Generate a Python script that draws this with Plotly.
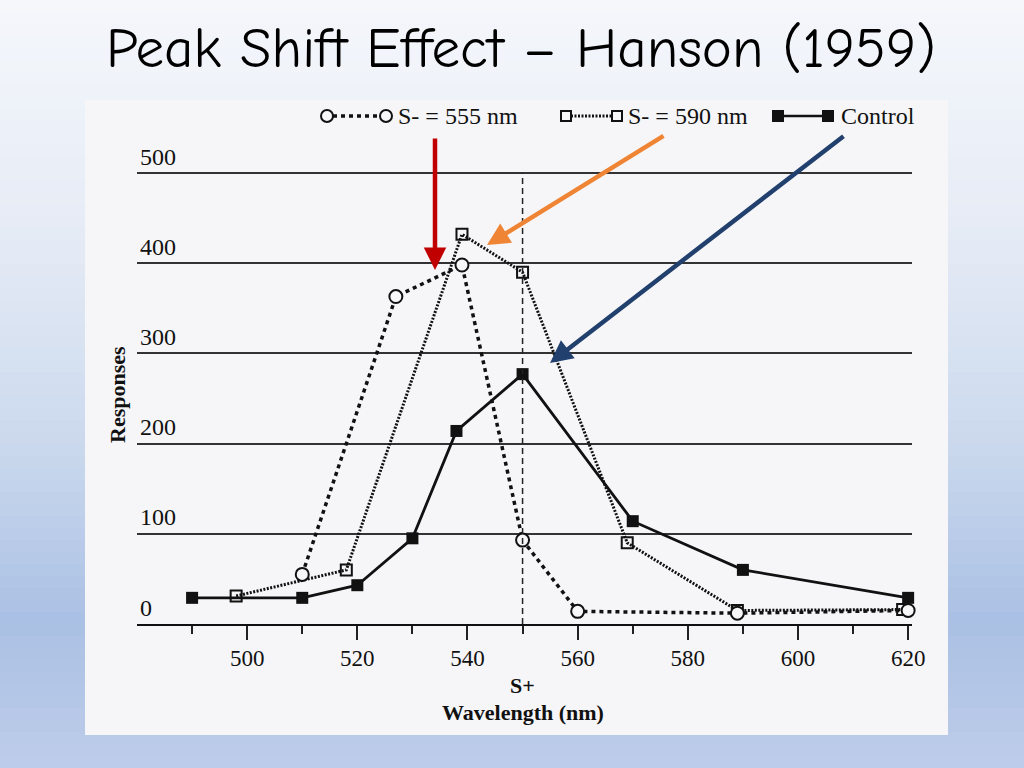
import plotly.graph_objects as go

# ---- data ----
control_x = [490, 510, 520, 530, 538, 550, 570, 590, 620]
control_y = [29, 29, 43, 95, 214, 277, 114, 60, 29]

s555_x = [510, 527, 539, 550, 560, 589, 620]
s555_y = [55, 363, 398, 93, 14, 12, 15]

s590_x = [498, 518, 539, 550, 569, 589, 619]
s590_y = [31, 60, 432, 390, 90, 15, 16]

x_ticks = [500, 520, 540, 560, 580, 600, 620]
y_ticks = [0, 100, 200, 300, 400, 500]
s_plus = 550

W, H = 1024, 768
def px(x):
    return x / W
def py(y):
    return 1 - y / H

fig = go.Figure()

fig.add_trace(go.Scatter(
    x=s590_x, y=s590_y, mode="lines+markers", name="S- = 590 nm",
    line=dict(color="#111111", width=3, dash="2px,1.5px"),
    marker=dict(symbol="square-open", size=11, color="#111111", line=dict(width=2)),
    cliponaxis=False))
fig.add_trace(go.Scatter(
    x=s555_x, y=s555_y, mode="lines+markers", name="S- = 555 nm",
    line=dict(color="#111111", width=3.5, dash="4px,4px"),
    marker=dict(symbol="circle", size=13, color="#f7f7f9", line=dict(width=2, color="#111111")),
    cliponaxis=False))
fig.add_trace(go.Scatter(
    x=control_x, y=control_y, mode="lines+markers", name="Control",
    line=dict(color="#111111", width=2.8),
    marker=dict(symbol="square", size=12, color="#111111"),
    cliponaxis=False))

shapes = []
# background gradient (slide)
stops = [(0, (245, 247, 251)), (250, (228, 234, 245)), (450, (202, 216, 237)),
         (620, (170, 192, 228)), (768, (190, 205, 234))]
def col_at(y):
    for (y0, c0), (y1, c1) in zip(stops[:-1], stops[1:]):
        if y0 <= y <= y1:
            t = (y - y0) / (y1 - y0)
            return "rgb(%d,%d,%d)" % tuple(round(a + (b - a) * t) for a, b in zip(c0, c1))
    return "rgb(%d,%d,%d)" % stops[-1][1]
step = 12
for y in range(0, H, step):
    shapes.append(dict(type="rect", xref="paper", yref="paper", x0=0, x1=1,
                       y0=py(y + step + 1), y1=py(y), fillcolor=col_at(y + step / 2),
                       line=dict(width=0), layer="below"))
# scanned page
shapes.append(dict(type="rect", xref="paper", yref="paper", x0=px(85), x1=px(948),
                   y0=py(735), y1=py(100), fillcolor="#f6f6f8", line=dict(width=0), layer="below"))
# S+ dashed line
shapes.append(dict(type="line", xref="x", yref="y", x0=s_plus, x1=s_plus, y0=0, y1=500,
                   line=dict(color="#222222", width=1.5, dash="6px,4px")))

# legend samples
ly = py(116)
def circ(xc, r=6):
    return dict(type="circle", xref="paper", yref="paper", x0=px(xc - r), x1=px(xc + r),
                y0=ly - r / H, y1=ly + r / H, line=dict(color="#111", width=2), fillcolor="#f6f6f8")
def sq(xc, filled, r=5):
    return dict(type="rect", xref="paper", yref="paper", x0=px(xc - r), x1=px(xc + r),
                y0=ly - r / H, y1=ly + r / H, line=dict(color="#111", width=2),
                fillcolor="#111" if filled else "#f6f6f8")
def seg(x0, x1, dash, w):
    return dict(type="line", xref="paper", yref="paper", x0=px(x0), x1=px(x1), y0=ly, y1=ly,
                line=dict(color="#111", width=w, dash=dash))
shapes += [seg(333, 380, "4px,4px", 3.5), circ(327), circ(386),
           seg(571, 612, "2px,1.5px", 3), sq(566, False), sq(617, False),
           seg(783, 823, "solid", 2.5), sq(778, True), sq(828, True)]

annotations = []
serif = "Liberation Serif, Times New Roman, serif"
for xl, txt in [(396, "S- = 555 nm"), (626, "S- = 590 nm"), (839, "Control")]:
    annotations.append(dict(x=px(xl), y=ly, xref="paper", yref="paper", text=txt,
                            showarrow=False, xanchor="left", yanchor="middle",
                            font=dict(family=serif, size=24, color="#111")))
annotations.append(dict(x=px(521), y=py(48), xref="paper", yref="paper",
                        text="Peak Shift Effect – Hanson (1959)", showarrow=False,
                        xanchor="center", yanchor="middle",
                        font=dict(family="Comic Sans MS, Comic Neue, Lato, sans-serif", size=57, color="#000")))
annotations.append(dict(x=s_plus, y=py(685), xref="x", yref="paper", text="<b>S+</b>",
                        showarrow=False, xanchor="center", yanchor="middle",
                        font=dict(family=serif, size=22, color="#111")))
annotations.append(dict(x=s_plus, y=py(712), xref="x", yref="paper", text="<b>Wavelength (nm)</b>",
                        showarrow=False, xanchor="center", yanchor="middle",
                        font=dict(family=serif, size=22, color="#111")))
annotations.append(dict(x=px(117), y=py(395), xref="paper", yref="paper", text="<b>Responses</b>",
                        textangle=-90, showarrow=False, xanchor="center", yanchor="middle",
                        font=dict(family=serif, size=22, color="#111")))
# arrows
for (hx, hy, tx, ty, c) in [(435, 270, 435, 137, "#c00000"),
                            (487, 245, 665, 135, "#ee8434"),
                            (550, 363, 845, 135, "#22406e")]:
    annotations.append(dict(x=px(hx), y=py(hy), xref="paper", yref="paper", text="",
                            showarrow=True, ax=tx - hx, ay=ty - hy, arrowcolor=c,
                            arrowwidth=4.5, arrowhead=2, arrowsize=1, standoff=0))

fig.update_layout(
    width=W, height=H, autosize=False,
    margin=dict(l=0, r=0, t=0, b=0, pad=0, autoexpand=False),
    paper_bgcolor="#f4f6fa", plot_bgcolor="rgba(0,0,0,0)",
    showlegend=False, shapes=shapes, annotations=annotations,
    xaxis=dict(domain=[137 / W, 912 / W], range=[480, 620.7], tickvals=x_ticks,
               ticks="outside", ticklen=14, tickwidth=1.5, tickcolor="#222",
               showline=True, linecolor="#111", linewidth=2, showgrid=False, zeroline=False,
               automargin=False, ticklabelstandoff=-2,
               tickfont=dict(family=serif, size=23, color="#111"),
               minor=dict(tickvals=[490, 510, 530, 550, 570, 590, 610], ticks="outside",
                          ticklen=8, tickwidth=1.5, tickcolor="#222")),
    yaxis=dict(domain=[(H - 624) / H, (H - 91.8) / H], range=[0, 590], tickvals=y_ticks,
               ticklabelposition="inside top", showgrid=True, gridcolor="#333", gridwidth=1.5,
               zeroline=False, showline=False, ticks="", automargin=False,
               tickfont=dict(family=serif, size=24, color="#111")),
)

fig.write_html(
    "out.html",
    config={"responsive": False, "displayModeBar": False},
    default_width="1024px", default_height="768px",
    post_script=(
        "document.documentElement.style.overflow='hidden';"
        "document.body.style.margin='0';document.body.style.overflow='hidden';"
    ),
)
